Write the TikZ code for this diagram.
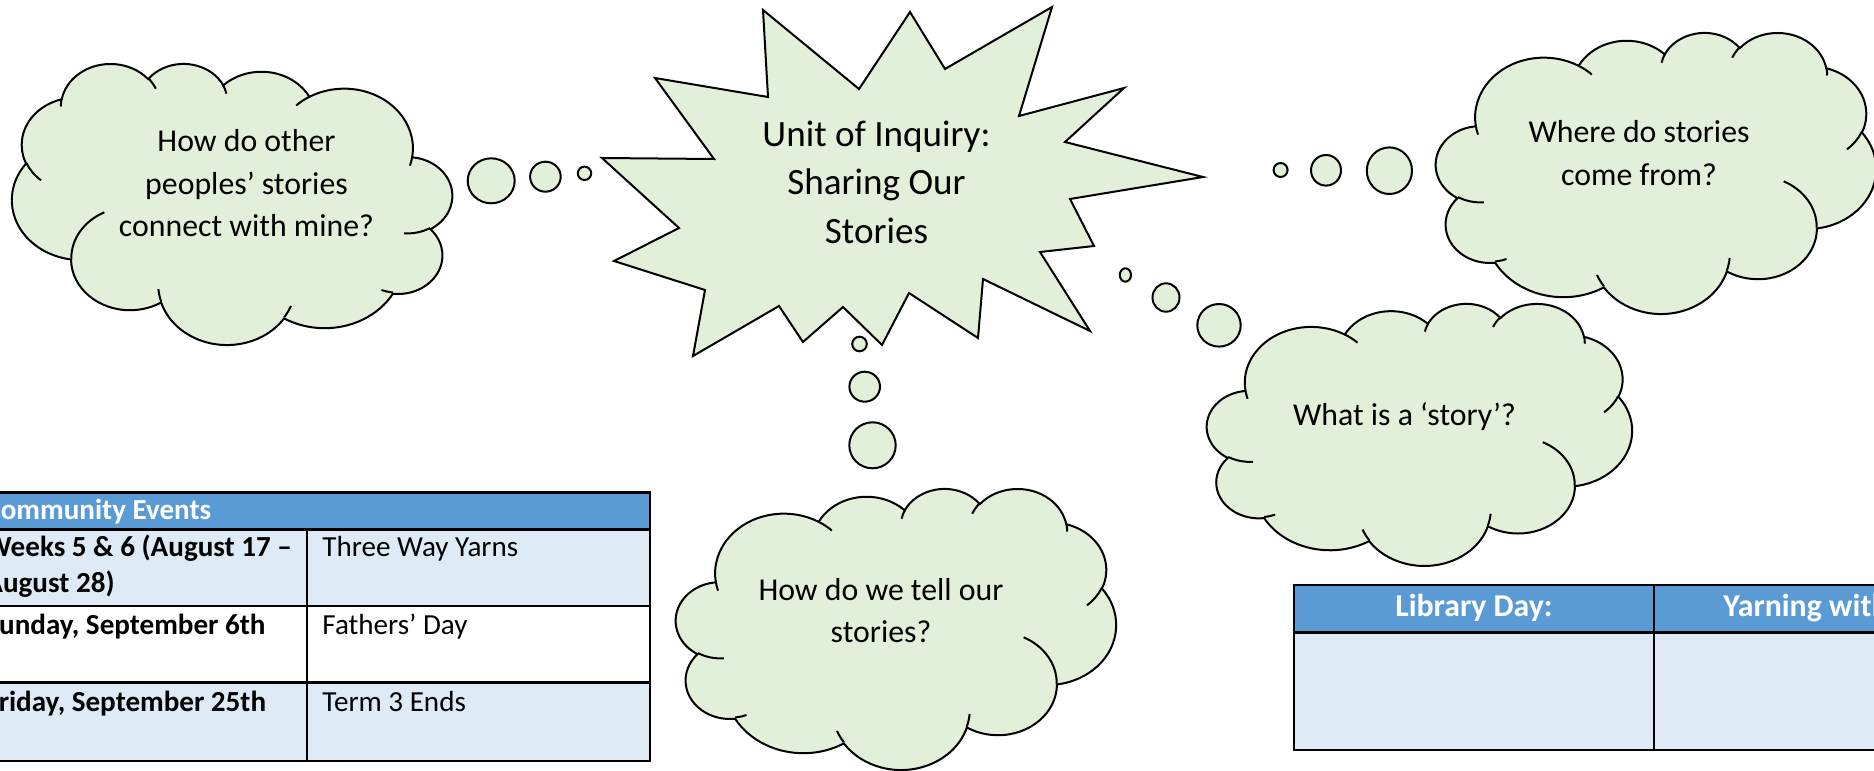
\documentclass[tikz,border=0pt]{standalone}
\usepackage{fontspec}
\setmainfont{Carlito}
\definecolor{cloudgreen}{HTML}{E2EFD9}
\definecolor{headblue}{HTML}{5B9BD5}
\definecolor{rowblue}{HTML}{DEEAF6}

% One lobe of a cloud: x radius, y radius, start angle, sweep.
% Angles are measured on the drawn ellipse (y axis pointing down),
% so they are turned into parametric angles first.
\newcommand\cloudarc[4]{%
  \pgfextra{%
    \pgfmathsetmacro\cldS{atan2((#1)*sin(#3),(#2)*cos(#3))}%
    \pgfmathsetmacro\cldE{atan2((#1)*sin((#3)+(#4)),(#2)*cos((#3)+(#4)))}%
    \pgfmathsetmacro\cldE{(\cldE<\cldS) ? (\cldE+360) : \cldE}%
    \global\let\gcldS\cldS \global\let\gcldE\cldE}%
  arc[start angle=\gcldS, end angle=\gcldE, x radius=#1, y radius=#2]}

% Outline of the cloud in a unit box
\newcommand\cloudoutline{%
  (0.090278,0.332639)
  \cloudarc{0.156319}{0.212731}{-190.48748}{123.78053}
  \cloudarc{0.123449}{0.168218}{-144.10238}{89.94523}
  \cloudarc{0.101042}{0.137616}{-145.80792}{99.72302}
  \cloudarc{0.112431}{0.152662}{-130.98607}{117.24173}
  \cloudarc{0.123449}{0.168356}{-78.70888}{109.02692}
  \cloudarc{0.156829}{0.213426}{-46.26725}{130.26900}
  \cloudarc{0.133912}{0.182106}{0.62502}{114.03333}
  \cloudarc{0.156296}{0.213310}{22.45160}{115.17255}
  \cloudarc{0.178704}{0.244051}{66.24263}{75.71102}
  \cloudarc{0.100926}{0.136991}{-274.94208}{146.73557}
  \cloudarc{0.100579}{0.137616}{-246.82850}{152.51885}
  -- cycle}

% Short inner curves where the lobes meet
\newcommand\cloudcreases{%
  (0.108634,0.605949) \cloudarc{0.100579}{0.137616}{86.74200}{26.42950}
  (0.160370,0.807847) \cloudarc{0.100926}{0.136991}{73.61047}{11.44747}
  (0.381435,0.904861) \cloudarc{0.156296}{0.213310}{137.62415}{14.08110}
  (0.667292,0.804421) \cloudarc{0.156296}{0.213310}{6.45247}{15.99835}
  (0.790023,0.531343) \cloudarc{0.133912}{0.182106}{-70.29235}{70.91737}
  (0.967546,0.355417) \cloudarc{0.123449}{0.168356}{30.31803}{27.75150}
  (0.887130,0.125602) \cloudarc{0.112431}{0.152662}{-13.74433}{14.85020}
  (0.673102,0.091481) \cloudarc{0.112431}{0.152662}{-149.18145}{18.19537}
  (0.512523,0.109259) \cloudarc{0.101042}{0.137616}{-163.49427}{17.68635}
  (0.324074,0.120185) \cloudarc{0.156319}{0.212731}{-66.70695}{12.31935}
  (0.095532,0.365486) \cloudarc{0.156319}{0.212731}{157.65435}{11.85817}}

% Cloud whose box starts at corner (x,y) and spans w by h;
% a negative w mirrors it left to right about that corner
\newcommand\thoughtcloud[4]{%
  \begin{scope}[shift={(#1,#2)}, x={(#3*0.5pt,0pt)}, y={(0pt,-#4*0.5pt)}]
    \path[cloudbody] \cloudoutline;
    \path[cloudline] \cloudcreases;
  \end{scope}}

\begin{document}
\begin{tikzpicture}[x=0.5pt, y=-0.5pt,
  cloudbody/.style={fill=cloudgreen, draw=black, line width=1pt},
  cloudline/.style={draw=black, line width=1pt},
  bubble/.style={fill=cloudgreen, draw=black, line width=1pt},
  burst/.style={fill=cloudgreen, draw=black, line width=1pt, line join=miter},
  question/.style={align=center, inner sep=0pt, anchor=base,
    font=\fontsize{15.9pt}{21.25pt}\selectfont},
  headline/.style={align=center, inner sep=0pt, anchor=base,
    font=\fontsize{18.55pt}{24.25pt}\selectfont},
  grid/.style={draw=black, line width=1.25pt},
  cellbold/.style={inner sep=0pt, anchor=base west, align=left,
    font=\fontsize{14.55pt}{18.25pt}\selectfont\bfseries},
  cell/.style={inner sep=0pt, anchor=base west,
    font=\fontsize{14.55pt}{18.25pt}\selectfont},
  headcell/.style={inner sep=0pt, text=white,
    font=\fontsize{14.55pt}{18.25pt}\selectfont\bfseries},
  libhead/.style={inner sep=0pt, text=white,
    font=\fontsize{15.9pt}{19.4pt}\selectfont\bfseries}]

\useasboundingbox (0,0) rectangle (1874,771);
\clip (0,0) rectangle (1874,771);

% ---- central burst ----
\path[burst] (763,10) -- (859,89) -- (910,12) -- (945,69) -- (1052,7)
  -- (1019,116) -- (1124,88) -- (1065,142) -- (1203,177) -- (1070,199)
  -- (1094,246) -- (1040,252) -- (1090,331) -- (983,279) -- (978,338)
  -- (909,293) -- (882,345) -- (843,307) -- (803,342) -- (779,306)
  -- (693,356) -- (705,290) -- (614,261) -- (679,228) -- (602,158)
  -- (714,159) -- (655,78) -- (768,97) -- cycle;
% multi-line nodes sit on the baseline of their last line
\node[headline] (unit) at (876.5,243) {Unit of Inquiry:\\Sharing Our\\Stories};

% ---- thought bubbles ----
\path[bubble] (491.2,180.8) ellipse [x radius=23.5, y radius=22.5];
\path[bubble] (545.4,176.7) ellipse [x radius=15.3, y radius=15];
\path[bubble] (584.5,173.3) ellipse [x radius=6.7, y radius=6.7];

\path[bubble] (1389.4,170.7) ellipse [x radius=22.6, y radius=23.3];
\path[bubble] (1326,170.3) ellipse [x radius=15, y radius=15.3];
\path[bubble] (1280.6,170) ellipse [x radius=7, y radius=7];

\path[bubble] (1219,325.3) ellipse [x radius=21.7, y radius=21.3];
\path[bubble] (1166,297.5) ellipse [x radius=13.5, y radius=14.2];
\path[bubble] (1125.4,275) ellipse [x radius=5.6, y radius=6.7];

\path[bubble] (872.5,445.3) ellipse [x radius=23.2, y radius=23];
\path[bubble] (864.7,386.7) ellipse [x radius=15.3, y radius=15];
\path[bubble] (859.5,344) ellipse [x radius=7.3, y radius=7.3];

% ---- clouds ----
\thoughtcloud{452}{63}{-440}{281}
\node[question] (q-others) at (246.5,236.7) {How do other\\peoples’ stories\\connect with mine?};

\thoughtcloud{1436}{32}{440}{281}
\node[question] (q-where) at (1639,185) {Where do stories\\come from?};

\thoughtcloud{1207}{303}{425}{262}
\node[question] (q-what) at (1404.5,425) {What is a ‘story’?};

\thoughtcloud{676}{488}{440}{281}
\node[question] (q-how) at (881,642.7) {How do we tell our\\stories?};

% ---- community events table ----
\fill[headblue] (-30,492.7) rectangle (650,529.3);
\fill[rowblue] (-30,529.3) rectangle (650,606);
\fill[white] (-30,606) rectangle (650,682.7);
\fill[rowblue] (-30,682.7) rectangle (650,761);
\draw[grid] (-30,492.7) rectangle (650,761);
\draw[grid] (-30,529.3) -- (650,529.3);
\draw[grid] (-30,606) -- (650,606);
\draw[grid] (-30,682.7) -- (650,682.7);
\draw[grid] (307,529.3) -- (307,761);

\node[headcell, anchor=base west] (ev-head) at (-15,519.3) {Community Events};
\node[cellbold] (ev-weeks) at (-15,592.7) {Weeks 5 \& 6 (August 17 –\\August 28)};
\node[cell] (ev-yarns) at (322,556) {Three Way Yarns};
\node[cellbold] (ev-sunday) at (-15,634.3) {Sunday, September 6th};
\node[cell] (ev-fathers) at (322,634.3) {Fathers’ Day};
\node[cellbold] (ev-friday) at (-15,711) {Friday, September 25th};
\node[cell] (ev-term) at (322,711) {Term 3 Ends};

% ---- library table ----
\fill[headblue] (1294,585) rectangle (2014,632.3);
\fill[rowblue] (1294,632.3) rectangle (2014,750);
\draw[grid] (1294,585) rectangle (2014,750);
\draw[grid] (1294,632.3) -- (2014,632.3);
\draw[grid] (1654,585) -- (1654,750);
\node[libhead, anchor=base] (lib-day) at (1474,616.7) {Library Day:};
\node[libhead, anchor=base west] (lib-yarn) at (1723,616.7) {Yarning with};

\end{tikzpicture}
\end{document}
